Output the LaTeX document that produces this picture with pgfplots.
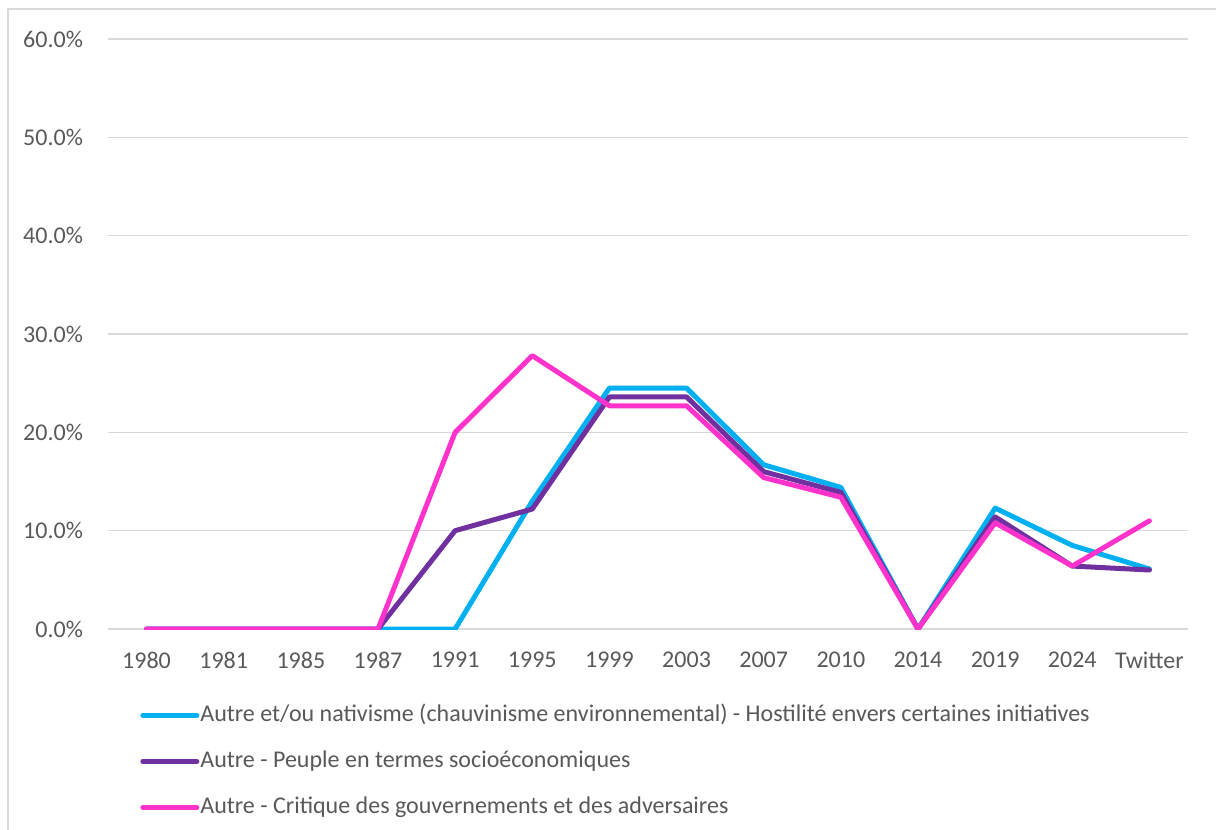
\documentclass[border=0pt]{standalone}
\usepackage{fontspec}
\setmainfont{Carlito}
\usepackage{pgfplots}
\pgfplotsset{compat=1.18}
\definecolor{txt}{HTML}{595959}
\definecolor{gridc}{HTML}{D9D9D9}
\definecolor{cyanS}{HTML}{00B0F0}
\definecolor{purpS}{HTML}{7030A0}
\definecolor{pinkS}{HTML}{FF33CC}
\begin{document}
\begin{tikzpicture}[font=\fontsize{12pt}{14pt}\selectfont]
\useasboundingbox (-54pt,-100.5pt) rectangle (554pt,314.5pt);
\draw[gridc,line width=0.8pt] (-50pt,-101pt) -- (-50pt,310pt) -- (555pt,310pt);
\begin{axis}[at={(0,0)},anchor=south west,scale only axis,
 width=540pt,height=295pt,
 xmin=-0.5,xmax=13.5,ymin=0,ymax=60,
 xtick={0,...,13},
 xticklabels={1980,1981,1985,1987,1991,1995,1999,2003,2007,2010,2014,2019,2024,Twitter},
 ytick={0,10,...,60},
 yticklabel={\pgfmathprintnumber[fixed,fixed zerofill,precision=1]{\tick}\%},
 /pgf/number format/assume math mode=true,
 tick style={draw=none},
 axis line style={draw=none},
 ymajorgrids,grid style={gridc,line width=0.8pt},
 ticklabel style={text=txt},
 xticklabel style={yshift=-8pt},
 yticklabel style={xshift=-9pt},
 legend style={draw=none,at={(0.0296,-0.1255)},anchor=north west,
   font=\fontsize{12pt}{14pt}\selectfont,text=txt,
   row sep=11pt,inner sep=0pt,
   nodes={inner sep=0.5pt,text height=8.5pt,text depth=2.5pt}},
 legend cell align=left,
 legend image code/.code={\draw[#1,line width=2.5pt,line cap=round] (0pt,0pt) -- (27pt,0pt);},
 every axis plot/.append style={line width=2.5pt,line join=round,line cap=round,mark=none},
]
\draw[gridc,line width=0.8pt] (axis cs:-0.5,0) -- (axis cs:13.5,0);
\addplot[cyanS] coordinates {(0,0) (1,0) (2,0) (3,0) (4,0) (5,13.0) (6,24.5) (7,24.5) (8,16.7) (9,14.4) (10,0) (11,12.3) (12,8.5) (13,6.1)};
\addplot[purpS] coordinates {(0,0) (1,0) (2,0) (3,0) (4,10.0) (5,12.2) (6,23.6) (7,23.6) (8,16.0) (9,13.9) (10,0) (11,11.4) (12,6.4) (13,6.0)};
\addplot[pinkS] coordinates {(0,0) (1,0) (2,0) (3,0) (4,20.0) (5,27.8) (6,22.7) (7,22.7) (8,15.4) (9,13.4) (10,0) (11,10.8) (12,6.4) (13,11.0)};
\legend{Autre et/ou nativisme (chauvinisme environnemental) - Hostilité envers certaines initiatives,
 Autre - Peuple en termes socioéconomiques,
 Autre - Critique des gouvernements et des adversaires}
\end{axis}
\end{tikzpicture}
\end{document}
